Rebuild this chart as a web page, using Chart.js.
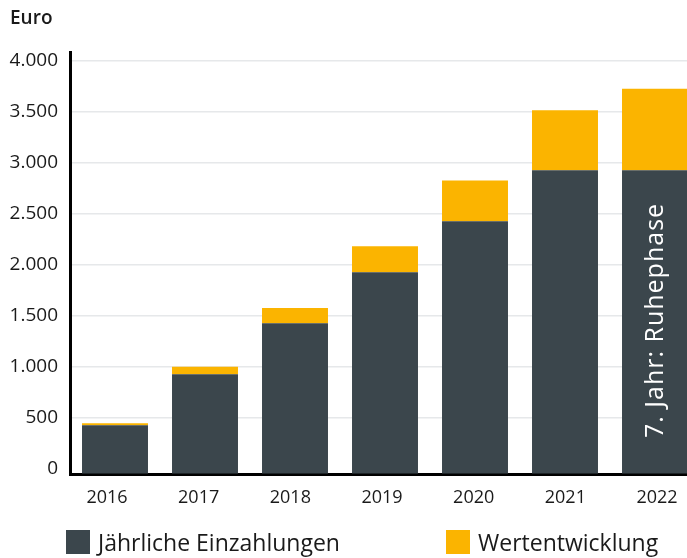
<!DOCTYPE html>
<html>
<head>
<meta charset="utf-8">
<script src="https://cdn.jsdelivr.net/npm/chart.js@4/dist/chart.umd.min.js"></script>
<style>
  html, body { margin: 0; padding: 0; background: #fff; overflow: hidden; }
  #wrap { position: relative; width: 700px; height: 558px; }
  canvas { position: absolute; left: 0; top: 0; }
  #euro { position: absolute; left: 10px; top: 4px; font: 600 19px "Open Sans", sans-serif; color: #1a1a1a; }
  .leg { position: absolute; top: 528px; height: 28px; display: flex; align-items: center; font: 23px "Open Sans", sans-serif; color: #1a1a1a; white-space: nowrap; }
  .leg span.box { display: inline-block; width: 24px; height: 24px; margin-right: 8px; }
</style>
</head>
<body>
<div id="wrap">
  <canvas id="c" width="700" height="558"></canvas>
  <div id="euro">Euro</div>
  <div class="leg" style="left:66px"><span class="box" style="background:#3b464c"></span>Jährliche Einzahlungen</div>
  <div class="leg" style="left:446px"><span class="box" style="background:#fbb400"></span>Wertentwicklung</div>
</div>
<script>
const years = ['2016', '2017', '2018', '2019', '2020', '2021', '2022'];
const einzahlungen = [425, 925, 1425, 1925, 2425, 2925, 2925];
const wertentwicklung = [20, 75, 150, 255, 400, 590, 800];
const yTicks = [0, 500, 1000, 1500, 2000, 2500, 3000, 3500, 4000];
const seriesNames = ['Jährliche Einzahlungen', 'Wertentwicklung'];
const annotationText = '7. Jahr: Ruhephase';

function fmt(v) {
  return String(v).replace(/\B(?=(\d{3})+(?!\d))/g, '.');
}

const annotate = {
  id: 'annotate',
  afterDatasetsDraw(chart) {
    const ctx = chart.ctx;
    const xs = chart.scales.x, ys = chart.scales.y;
    const x = xs.getPixelForValue(years.length - 1) + 1;
    const y = ys.getPixelForValue(300);
    ctx.save();
    ctx.translate(x, y);
    ctx.rotate(-Math.PI / 2);
    ctx.fillStyle = '#ffffff';
    ctx.font = '25px "Open Sans", sans-serif';
    if ('letterSpacing' in ctx) ctx.letterSpacing = '1px';
    ctx.textAlign = 'left';
    ctx.textBaseline = 'middle';
    ctx.fillText(annotationText, 0, 0);
    ctx.restore();
  }
};

new Chart(document.getElementById('c'), {
  type: 'bar',
  data: {
    labels: years,
    datasets: [
      { label: seriesNames[0], data: einzahlungen, backgroundColor: '#3b464c', base: -47 },
      { label: seriesNames[1], data: wertentwicklung, backgroundColor: '#fbb400' }
    ]
  },
  options: {
    responsive: false,
    animation: false,
    layout: { padding: { top: 52, left: 0, right: 0, bottom: 0 } },
    datasets: { bar: { barPercentage: 0.733, categoryPercentage: 1 } },
    plugins: { legend: { display: false }, tooltip: { enabled: false } },
    scales: {
      x: {
        stacked: true,
        grid: { display: false, drawTicks: false },
        border: { display: true, color: '#000', width: 3 },
        ticks: { display: false },
        afterFit(s) { s.height = 0; }
      },
      xLabels: {
        type: 'linear',
        position: 'bottom',
        offset: false,
        min: -0.4036,
        max: 6.469,
        afterBuildTicks(s) { s.ticks = years.map((_, i) => ({ value: i })); },
        grid: { display: false, drawTicks: false, offset: false },
        border: { display: false },
        ticks: { color: '#1a1a1a', font: { family: 'Open Sans', size: 18 }, padding: 13, maxRotation: 0, autoSkip: false, callback: v => years[v] },
        afterFit(s) { s.height = 558 - 474.5; }
      },
      y: {
        stacked: true,
        min: -57,
        max: 4085,
        afterBuildTicks(s) { s.ticks = yTicks.map(v => ({ value: v })); },
        grid: {
          drawTicks: false,
          lineWidth: 1.5,
          color: c => (c.tick && c.tick.value === 0) ? 'rgba(0,0,0,0)' : '#e6e8ea'
        },
        border: { display: true, color: '#000', width: 3 },
        ticks: { color: '#1a1a1a', font: { family: 'Open Sans', size: 19 }, padding: 12, callback: v => fmt(v) },
        afterFit(s) { s.width = 70; }
      }
    }
  },
  plugins: [annotate]
});
</script>
</body>
</html>
